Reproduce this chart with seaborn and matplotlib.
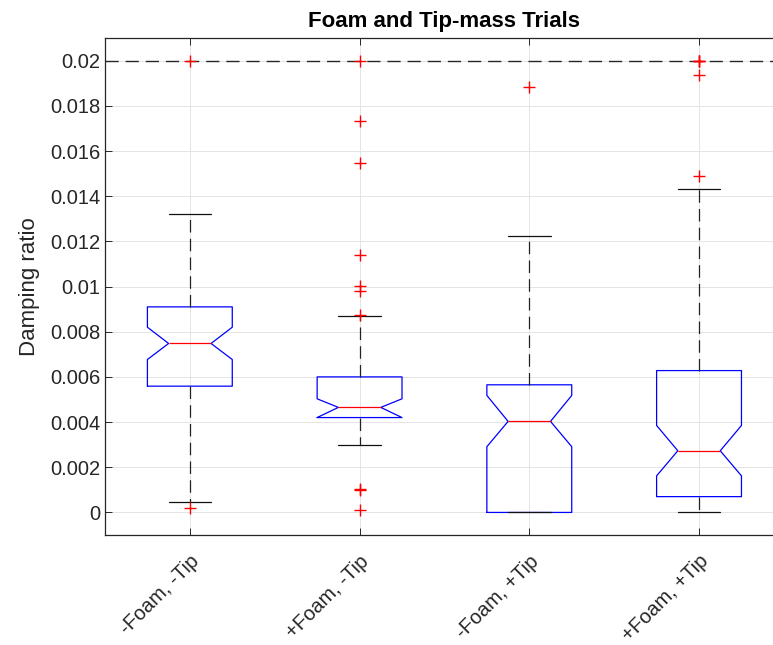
import matplotlib
matplotlib.use("Agg")
import matplotlib.pyplot as plt
import seaborn as sns
import pandas as pd

# Trial groups and box statistics of the damping ratio
groups = ["-Foam, -Tip", "+Foam, -Tip", "-Foam, +Tip", "+Foam, +Tip"]
q1 = [0.00559, 0.00420, 0.0, 0.00070]
medians = [0.00748, 0.00465, 0.00403, 0.00273]
q3 = [0.00910, 0.00600, 0.00565, 0.00628]
notch_lo = [0.00677, 0.00420, 0.00291, 0.00162]
notch_hi = [0.00820, 0.00503, 0.00518, 0.00385]
whisker_lo = [0.00047, 0.00298, 0.0, 0.0]
whisker_hi = [0.01322, 0.00869, 0.01224, 0.01432]
outliers = [
    [0.0200, 0.00021],
    [0.0200, 0.01731, 0.01549, 0.01140, 0.01001, 0.00981, 0.00876,
     0.00102, 0.00098, 0.00010],
    [0.01882],
    [0.0200, 0.0200, 0.0200, 0.01937, 0.01488],
]
damping_limit = 0.02
ytick_values = [0, 0.002, 0.004, 0.006, 0.008, 0.01, 0.012, 0.014, 0.016, 0.018, 0.02]
ytick_labels = ["0", "0.002", "0.004", "0.006", "0.008", "0.01",
                "0.012", "0.014", "0.016", "0.018", "0.02"]

sns.set_theme(style="whitegrid")
plt.rcParams["font.family"] = ["Liberation Sans", "DejaVu Sans"]

dark = "#262626"
fig = plt.figure(figsize=(7.73, 6.45), dpi=100)
ax = fig.add_axes([0.1358, 0.1705, 0.8783, 0.7705])

# Outlier crosses
flier_df = pd.DataFrame({
    "group": [g for g, vals in zip(groups, outliers) for _ in vals],
    "ratio": [v for vals in outliers for v in vals],
})
sns.stripplot(data=flier_df, x="group", y="ratio", order=groups, jitter=False,
              marker="+", color="red", size=9, linewidth=1.0, ax=ax, zorder=6)

# Notched boxes
stats = []
for i, g in enumerate(groups):
    stats.append(dict(label=g, q1=q1[i], med=medians[i], q3=q3[i],
                      cilo=notch_lo[i], cihi=notch_hi[i],
                      whislo=whisker_lo[i], whishi=whisker_hi[i], fliers=[]))
ax.bxp(stats, positions=list(range(len(groups))), widths=0.5,
       shownotches=True, showfliers=False, manage_ticks=False,
       boxprops=dict(color="blue", linewidth=0.9),
       medianprops=dict(color="red", linewidth=0.9),
       whiskerprops=dict(color="#222222", linewidth=0.9, linestyle=(0, (10, 5))),
       capprops=dict(color="#111111", linewidth=0.9))

# Upper damping limit
ax.axhline(damping_limit, color=dark, linewidth=1.0, linestyle=(0, (9.5, 5)), zorder=4)

ax.set_xlim(-0.5, 3.5)
ax.set_ylim(-0.001, 0.021)
ax.set_xticks(range(len(groups)))
ax.set_xticklabels(groups, rotation=45, ha="right", va="top",
                   rotation_mode="anchor")
ax.set_yticks(ytick_values)
ax.set_yticklabels(ytick_labels)
ax.set_xlabel("")
ax.set_ylabel("Damping ratio", fontsize=16, color=dark, labelpad=7)
ax.set_title("Foam and Tip-mass Trials", fontsize=16, fontweight="bold",
             color="black", pad=8)

ax.grid(True, axis="both", color="#e4e4e4", linewidth=0.7)
ax.set_axisbelow(True)
ax.tick_params(direction="in", length=5, width=0.7, color=dark,
               labelsize=14.5, labelcolor=dark,
               bottom=True, left=True, top=True, right=True)
ax.tick_params(axis="x", pad=12)
for s in ax.spines.values():
    s.set_color(dark)
    s.set_linewidth(0.9)

fig.savefig("out.png", dpi=100)
